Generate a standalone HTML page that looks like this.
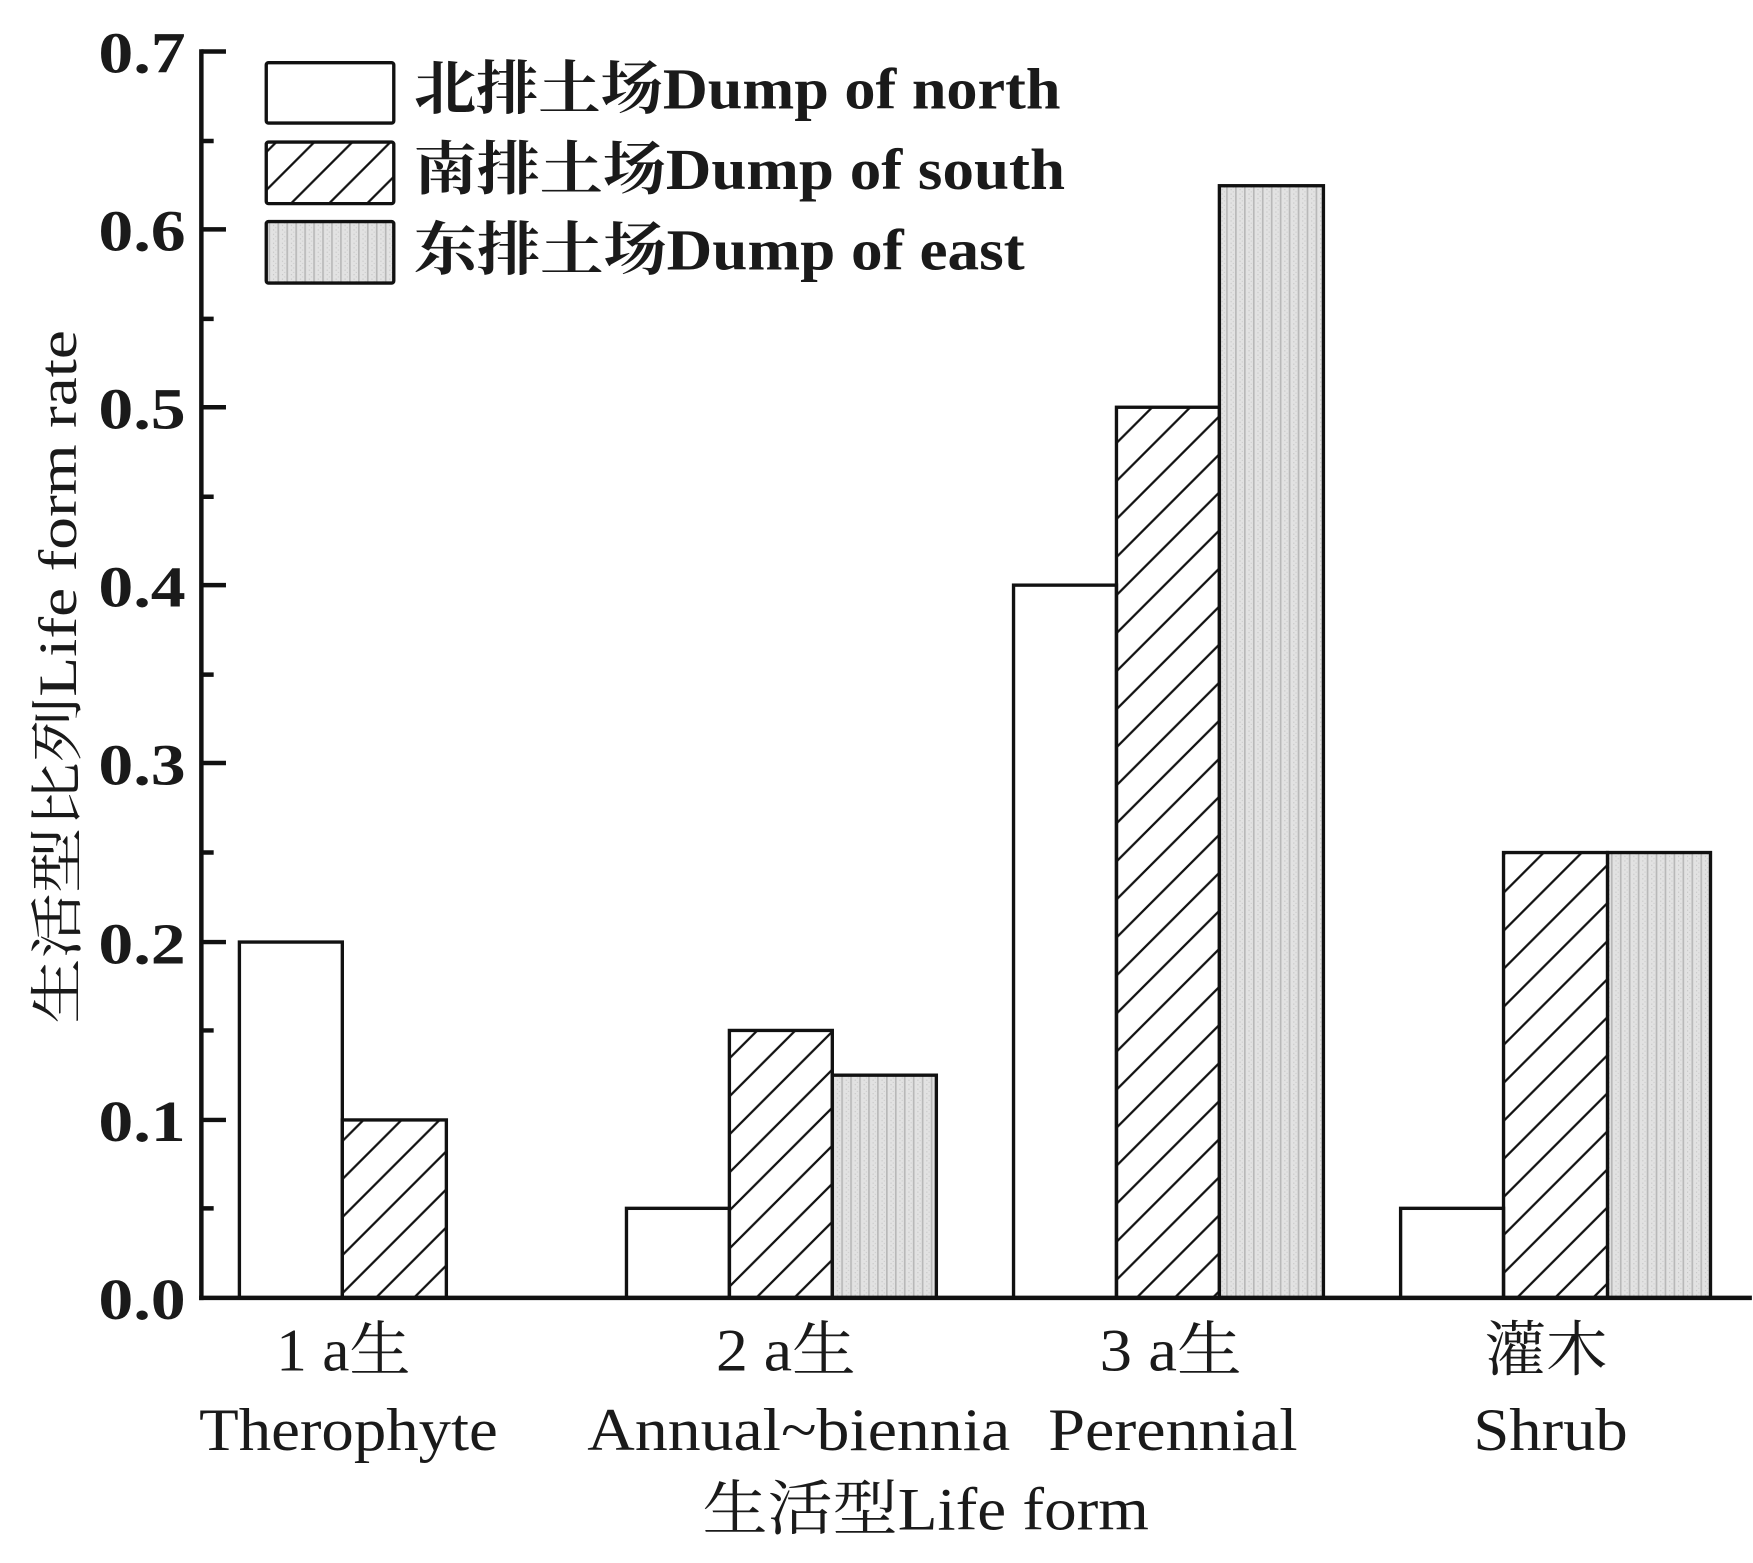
<!DOCTYPE html>
<html><head><meta charset="utf-8"><style>
html,body{margin:0;padding:0;background:#fff;}
svg{display:block;}
text{font-family:"Liberation Serif","Noto Serif CJK SC",serif;fill:#1a1a1a;}
</style></head><body>
<svg width="1753" height="1563" viewBox="0 0 1567 1397" preserveAspectRatio="none" xmlns="http://www.w3.org/2000/svg">
<defs>
<pattern id="hatch" patternUnits="userSpaceOnUse" width="34" height="34">
<path d="M-8.5,42.5 L42.5,-8.5 M-8.5,8.5 L8.5,-8.5 M25.5,42.5 L42.5,25.5" stroke="#111" stroke-width="2"/>
</pattern>
<pattern id="dots" patternUnits="userSpaceOnUse" width="8" height="4">
<rect width="8" height="4" fill="#e2e2e2"/>
<rect x="0" y="0" width="1.5" height="4" fill="#b8b8b8"/>
<rect x="4" y="1" width="1" height="1" fill="#c4c4c4"/>
<rect x="6" y="3" width="1" height="1" fill="#cccccc"/>
</pattern>
</defs>
<rect width="1567" height="1397" fill="#fff"/>

<g stroke="#111" stroke-width="3">
<rect x="214" y="842" width="92" height="318" fill="#fff"/>
<rect x="306" y="1001" width="93" height="159" fill="url(#hatch)"/>

<rect x="560" y="1080" width="92" height="80" fill="#fff"/>
<rect x="652" y="921" width="92" height="239" fill="url(#hatch)"/>
<rect x="744" y="961" width="93" height="199" fill="url(#dots)"/>

<rect x="906" y="523" width="92" height="637" fill="#fff"/>
<rect x="998" y="364" width="92" height="796" fill="url(#hatch)"/>
<rect x="1090" y="166" width="93" height="994" fill="url(#dots)"/>

<rect x="1252" y="1080" width="92" height="80" fill="#fff"/>
<rect x="1344" y="762" width="93" height="398" fill="url(#hatch)"/>
<rect x="1437" y="762" width="92" height="398" fill="url(#dots)"/>
</g>

<g stroke="#111" stroke-width="4" fill="none">
<line x1="180" y1="44" x2="180" y2="1162"/>
<line x1="178" y1="1160" x2="1566" y2="1160"/>
<path d="M180 46h22M180 205h22M180 364h22M180 523h22M180 682h22M180 842h22M180 1001h22"/>
<path d="M180 126h11M180 285h11M180 444h11M180 603h11M180 762h11M180 921h11M180 1080h11"/>
</g>

<g font-size="52" font-weight="bold" text-anchor="end">
<text x="166" y="65" textLength="78" lengthAdjust="spacingAndGlyphs">0.7</text>
<text x="166" y="224" textLength="78" lengthAdjust="spacingAndGlyphs">0.6</text>
<text x="166" y="383" textLength="78" lengthAdjust="spacingAndGlyphs">0.5</text>
<text x="166" y="542" textLength="78" lengthAdjust="spacingAndGlyphs">0.4</text>
<text x="166" y="701" textLength="78" lengthAdjust="spacingAndGlyphs">0.3</text>
<text x="166" y="861" textLength="78" lengthAdjust="spacingAndGlyphs">0.2</text>
<text x="166" y="1020" textLength="78" lengthAdjust="spacingAndGlyphs">0.1</text>
<text x="166" y="1179" textLength="78" lengthAdjust="spacingAndGlyphs">0.0</text>
</g>

<text transform="translate(68,915) rotate(-90)" font-size="48" textLength="620" lengthAdjust="spacingAndGlyphs">生活型比列Life form rate</text>

<g font-size="54">
<text x="247" y="1225" textLength="120" lengthAdjust="spacingAndGlyphs">1 a生</text>
<text x="640" y="1225" textLength="125" lengthAdjust="spacingAndGlyphs">2 a生</text>
<text x="983" y="1225" textLength="127" lengthAdjust="spacingAndGlyphs">3 a生</text>
<text x="1327" y="1225" textLength="110" lengthAdjust="spacingAndGlyphs">灌木</text>
<text x="178" y="1296" textLength="267" lengthAdjust="spacingAndGlyphs">Therophyte</text>
<text x="525" y="1296" textLength="378" lengthAdjust="spacingAndGlyphs">Annual~biennia</text>
<text x="937" y="1296" textLength="223" lengthAdjust="spacingAndGlyphs">Perennial</text>
<text x="1317" y="1296" textLength="138" lengthAdjust="spacingAndGlyphs">Shrub</text>
<text x="628" y="1367" textLength="399" lengthAdjust="spacingAndGlyphs">生活型Life form</text>
</g>

<g stroke="#111" stroke-width="3">
<rect x="238" y="56" width="114" height="54" rx="2" fill="#fff"/>
<rect x="238" y="127" width="114" height="55" rx="2" fill="url(#hatch)"/>
<rect x="238" y="198" width="114" height="55" rx="2" fill="url(#dots)"/>
</g>
<g font-size="52" font-weight="bold">
<text x="370" y="97" textLength="578" lengthAdjust="spacingAndGlyphs">北排土场Dump of north</text>
<text x="370" y="169" textLength="582" lengthAdjust="spacingAndGlyphs">南排土场Dump of south</text>
<text x="370" y="241" textLength="546" lengthAdjust="spacingAndGlyphs">东排土场Dump of east</text>
</g>
</svg>
</body></html>
